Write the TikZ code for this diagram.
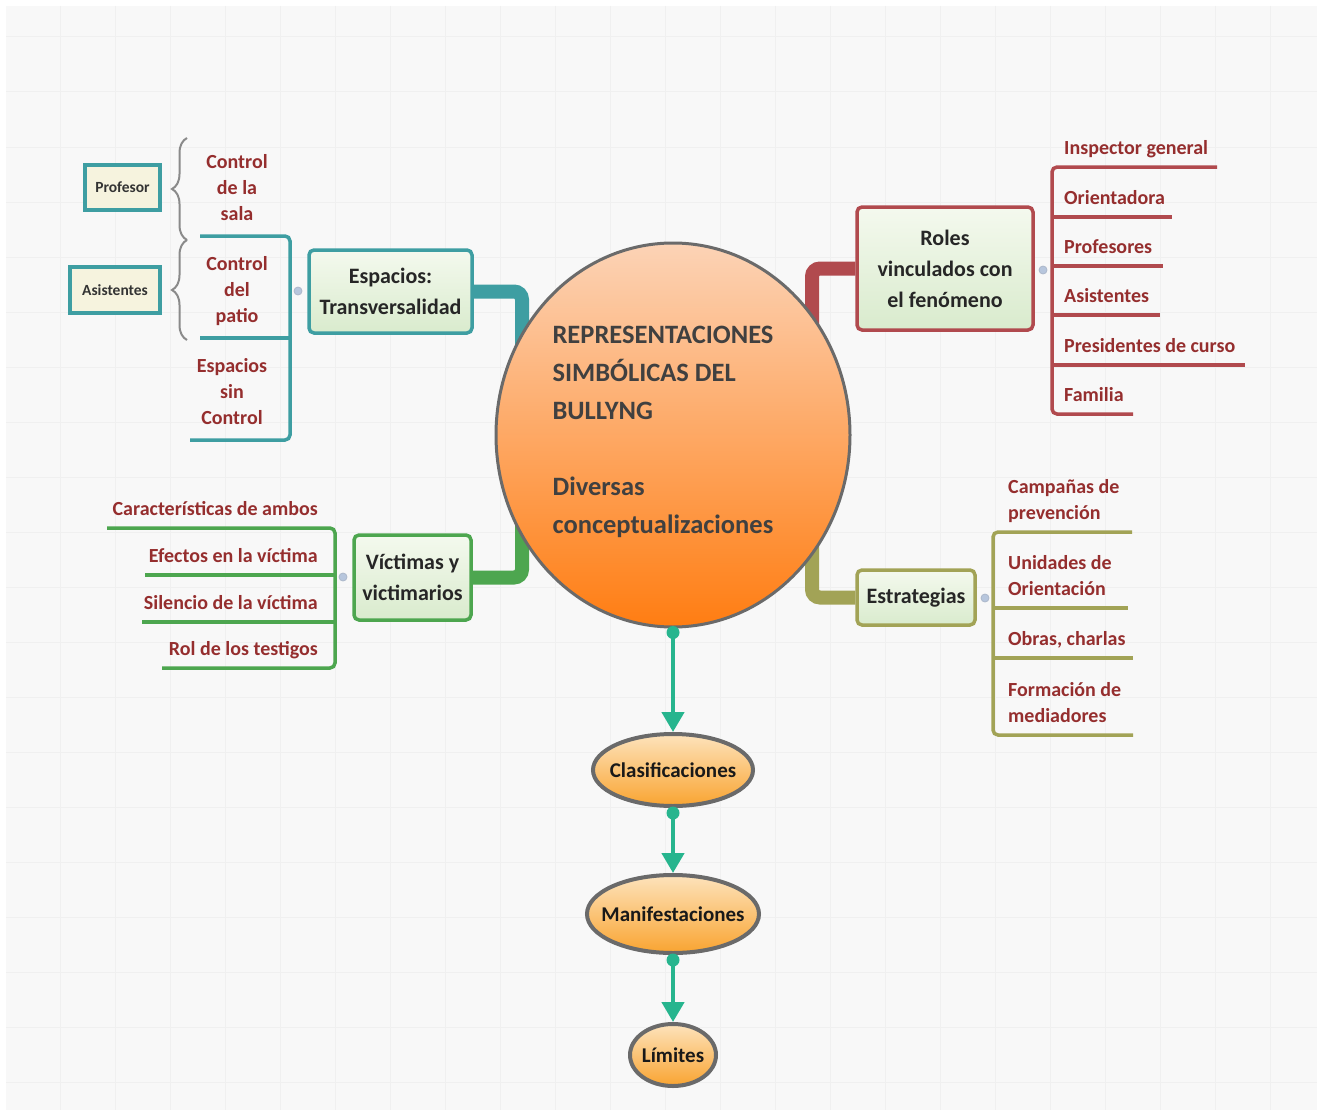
\documentclass[tikz,border=0pt]{standalone}
\usepackage{fontspec}
\setmainfont{Carlito}
\usetikzlibrary{arrows.meta,shapes.geometric,decorations.pathreplacing}
\definecolor{bgc}{HTML}{F8F8F8}
\definecolor{gridc}{HTML}{F0F0F0}
\definecolor{espC}{HTML}{3E9EA2}
\definecolor{rolC}{HTML}{B14A4E}
\definecolor{vicC}{HTML}{4DA64F}
\definecolor{estC}{HTML}{A2A356}
\definecolor{leafT}{HTML}{952E2E}
\definecolor{chainC}{HTML}{27B58E}
\definecolor{nodeTop}{HTML}{F4F9EE}
\definecolor{nodeBot}{HTML}{D9EBCD}
\definecolor{circTop}{HTML}{FCD3B6}
\definecolor{circBot}{HTML}{FF7D12}
\definecolor{ellTop}{HTML}{FDE3BC}
\definecolor{ellBot}{HTML}{F9A431}
\definecolor{rimC}{HTML}{6A6A6A}
\definecolor{creamC}{HTML}{F6F3DE}
\definecolor{handleC}{HTML}{B7C6DD}
\definecolor{braceC}{HTML}{8A8A8A}
\pgfdeclarelayer{back}
\pgfdeclarelayer{conn}
\pgfsetlayers{back,conn,main}
\begin{document}
\begin{tikzpicture}[x=1pt,y=-1pt,
  topic/.style={draw=#1, line width=3.5pt, rounded corners=5pt, top color=nodeTop, bottom color=nodeBot,
    text=black!85, align=center, font=\bfseries\fontsize{22}{31}\selectfont, inner sep=0pt},
  bigcirc/.style={ellipse, draw=rimC, line width=3pt, top color=circTop, bottom color=circBot, inner sep=0pt},
  chainell/.style={ellipse, draw=rimC, line width=4pt, top color=ellTop, bottom color=ellBot,
    font=\bfseries\fontsize{21}{24}\selectfont, text=black!90, inner xsep=-30pt, inner ysep=-6pt},
  leaf/.style={text=leafT, font=\bfseries\fontsize{20}{26}\selectfont, inner sep=0pt},
  smallbox/.style={draw=espC, line width=3.5pt, fill=creamC, font=\bfseries\fontsize{15.5}{17}\selectfont, text=black!80, inner sep=0pt},
  handle/.style={circle, fill=handleC, draw=handleC!80!gray, line width=0.8pt, minimum size=8pt, inner sep=0pt},
  chain/.style={chainC, line width=4.5pt, -{Triangle[length=20pt,width=22pt]}},
  bracket/.style={line width=3.5pt, rounded corners=5pt},
  elbow/.style={line width=14pt, rounded corners=8pt},
  brc/.style={braceC, line width=2pt, decorate, decoration={brace, amplitude=15pt}}
]
\useasboundingbox (0,0) rectangle (1323,1116);
\begin{pgfonlayer}{back}
  \fill[white] (0,0) rectangle (1323,1116);
  \fill[bgc] (6,6) rectangle (1317,1110);
  \foreach \gx in {60,115,...,1317} \draw[gridc, line width=1pt] (\gx,6) -- (\gx,1110);
  \foreach \gy in {37,92,...,1110} \draw[gridc, line width=1pt] (6,\gy) -- (1317,\gy);
\end{pgfonlayer}

% central topic
\node[bigcirc, minimum width=354pt, minimum height=384pt] (c) at (673,435) {};
\node[text=black!75, align=left, font=\bfseries\fontsize{26.5}{38}\selectfont, inner sep=0pt] (ctext) at (663,432)
  {REPRESENTACIONES\\SIMBÓLICAS DEL\\BULLYNG\\[38pt]Diversas\\conceptualizaciones};

% main topics
\node[topic=espC, minimum width=163pt, minimum height=83pt] (esp) at (390.5,291.5) {Espacios:\\Transversalidad};
\node[topic=rolC, minimum width=176pt, minimum height=123pt] (rol) at (945,268.5) {Roles\\vinculados con\\el fenómeno};
\node[topic=vicC, minimum width=117pt, minimum height=85pt] (vic) at (412.5,577.5) {Víctimas y\\victimarios};
\node[topic=estC, minimum width=118pt, minimum height=55pt] (est) at (916,597.5) {Estrategias};

% elbow connectors from the centre
\coordinate (cEsp) at (522,350);
\coordinate (cRol) at (812,330);
\coordinate (cVic) at (522,520);
\coordinate (cEst) at (812,540);
\begin{pgfonlayer}{conn}
  \draw[espC, elbow] (esp.east) -| (cEsp);
  \draw[rolC, elbow] (rol.west) -| (cRol);
  \draw[vicC, elbow] (vic.east) -| (cVic);
  \draw[estC, elbow] (est.west) -| (cEst);
\end{pgfonlayer}

% handles
\node[handle] (hEsp) at (298,291) {};
\node[handle] (hRol) at (1043,270) {};
\node[handle] (hVic) at (343,577) {};
\node[handle] (hEst) at (985,598) {};

% Roles leaves
\draw[rolC, bracket] (1217,167) -- (1052,167) -- (1052,414) -- (1133,414);
\foreach \ly/\le in {217/1172, 266/1163, 315/1160, 365/1245} \draw[rolC, line width=3.5pt] (1052,\ly) -- (\le,\ly);
\node[leaf, anchor=base west] (r1) at (1064,154) {Inspector general};
\node[leaf, anchor=base west] (r2) at (1064,204) {Orientadora};
\node[leaf, anchor=base west] (r3) at (1064,253) {Profesores};
\node[leaf, anchor=base west] (r4) at (1064,302) {Asistentes};
\node[leaf, anchor=base west] (r5) at (1064,352) {Presidentes de curso};
\node[leaf, anchor=base west] (r6) at (1064,401) {Familia};

% Espacios leaves
\draw[espC, bracket] (200,236) -- (290,236) -- (290,440) -- (190,440);
\draw[espC, line width=3.5pt] (200,338) -- (290,338);
\node[leaf, align=center, anchor=base] (e1) at (237,220) {Control\\de la\\sala};
\node[leaf, align=center, anchor=base] (e2) at (237,322) {Control\\del\\patio};
\node[leaf, align=center, anchor=base] (e3) at (232,424) {Espacios\\sin\\Control};
\draw[brc] (187,240) -- (187,138);
\draw[brc] (187,340) -- (187,240);
\node[smallbox, minimum width=75pt, minimum height=45pt] (prof) at (122.5,187.5) {Profesor};
\node[smallbox, minimum width=90pt, minimum height=46pt] (asis) at (115,290) {Asistentes};

% Victimas leaves
\draw[vicC, bracket] (107,528) -- (335,528) -- (335,668) -- (162,668);
\draw[vicC, line width=3.5pt] (145,575) -- (335,575);
\draw[vicC, line width=3.5pt] (142,622) -- (335,622);
\node[leaf, anchor=base east] (v1) at (318,515) {Características de ambos};
\node[leaf, anchor=base east] (v2) at (318,562) {Efectos en la víctima};
\node[leaf, anchor=base east] (v3) at (318,609) {Silencio de la víctima};
\node[leaf, anchor=base east] (v4) at (318,655) {Rol de los testigos};

% Estrategias leaves
\draw[estC, bracket] (1132,532) -- (993,532) -- (993,735) -- (1133,735);
\draw[estC, line width=3.5pt] (993,608) -- (1128,608);
\draw[estC, line width=3.5pt] (993,658) -- (1133,658);
\node[leaf, align=left, anchor=base west] (s1) at (1008,519) {Campañas de\\prevención};
\node[leaf, align=left, anchor=base west] (s2) at (1008,595) {Unidades de\\Orientación};
\node[leaf, align=left, anchor=base west] (s3) at (1008,645) {Obras, charlas};
\node[leaf, align=left, anchor=base west] (s4) at (1008,722) {Formación de\\mediadores};

% chain below
\node[chainell, minimum width=160pt, minimum height=72pt] (clas) at (673,770) {Clasificaciones};
\node[chainell, minimum width=172pt, minimum height=78pt] (mani) at (673,914) {Manifestaciones};
\node[chainell, minimum width=86pt, minimum height=62pt] (lim) at (673,1055) {Límites};
\draw[chain] (c.south) -- (clas.north);
\draw[chain] (clas.south) -- (mani.north);
\draw[chain] (mani.south) -- (lim.north);
\fill[chainC] ([yshift=-4pt]c.south) circle (6.5pt);
\fill[chainC] ([yshift=-5pt]clas.south) circle (6.5pt);
\fill[chainC] ([yshift=-5pt]mani.south) circle (6.5pt);
\end{tikzpicture}
\end{document}
